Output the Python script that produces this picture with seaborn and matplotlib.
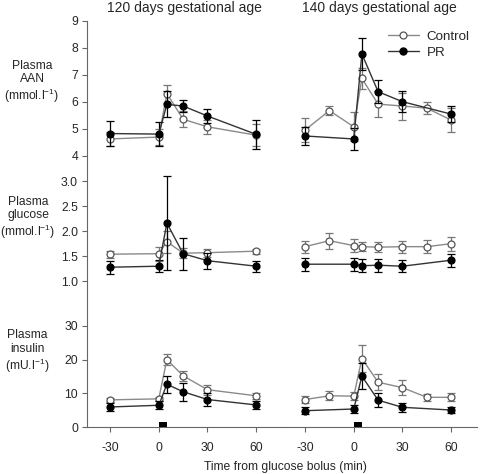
import numpy as np
import pandas as pd
import matplotlib
matplotlib.use("Agg")
import matplotlib.pyplot as plt
import seaborn as sns
from matplotlib.lines import Line2D

# ---------------- data ----------------
panel_titles = ["120 days gestational age", "140 days gestational age"]
row_labels = ["Plasma\nAAN\n(mmol.l$^{-1}$)",
              "Plasma\nglucose\n(mmol.l$^{-1}$)",
              "Plasma\ninsulin\n(mU.l$^{-1}$)"]
x_label = "Time from glucose bolus (min)"
x_ticks = [-30, 0, 30, 60]

# 120 days
t120 = [-30, 0, 5, 15, 30, 60]
aan120_ctrl = [4.62, 4.69, 6.30, 5.35, 5.07, 4.76]
aan120_ctrl_err = [0.25, 0.30, 0.33, 0.30, 0.27, 0.40]
aan120_pr = [4.82, 4.80, 5.90, 5.84, 5.47, 4.79]
aan120_pr_err = [0.45, 0.45, 0.48, 0.23, 0.25, 0.55]

glu120_ctrl = [1.54, 1.55, 1.79, 1.56, 1.57, 1.60]
glu120_ctrl_err = [0.07, 0.14, 0.22, 0.10, 0.08, 0.05]
glu120_pr = [1.28, 1.30, 2.16, 1.55, 1.41, 1.30]
glu120_pr_err = [0.13, 0.12, 0.94, 0.32, 0.16, 0.11]

ins120_ctrl = [8.1, 8.4, 20.0, 15.2, 11.1, 9.3]
ins120_ctrl_err = [0.6, 0.6, 1.6, 1.5, 1.5, 0.9]
ins120_pr = [6.0, 6.5, 12.7, 10.5, 8.2, 6.6]
ins120_pr_err = [1.2, 1.2, 2.5, 2.7, 2.0, 1.1]

# 140 days
t140_ctrl = [-30, -15, 0, 5, 15, 30, 45, 60]
t140_pr = [-30, 0, 5, 15, 30, 60]
aan140_ctrl = [4.95, 5.67, 5.07, 6.86, 5.91, 5.84, 5.76, 5.32]
aan140_ctrl_err = [0.45, 0.18, 0.54, 0.40, 0.48, 0.50, 0.23, 0.45]
aan140_pr = [4.73, 4.62, 7.77, 6.37, 6.00, 5.54]
aan140_pr_err = [0.33, 0.40, 0.58, 0.43, 0.40, 0.30]

glu140_ctrl = [1.69, 1.81, 1.71, 1.69, 1.68, 1.69, 1.69, 1.75]
glu140_ctrl_err = [0.12, 0.16, 0.13, 0.09, 0.10, 0.12, 0.13, 0.14]
glu140_pr = [1.34, 1.34, 1.31, 1.32, 1.30, 1.42]
glu140_pr_err = [0.13, 0.13, 0.13, 0.13, 0.12, 0.13]

ins140_ctrl = [8.2, 9.3, 9.2, 20.3, 13.3, 11.7, 8.85, 8.85]
ins140_ctrl_err = [1.0, 1.3, 1.2, 4.0, 2.3, 2.2, 1.0, 1.2]
ins140_pr = [4.9, 5.4, 15.1, 8.0, 5.9, 5.1]
ins140_pr_err = [1.0, 1.2, 3.9, 2.0, 1.3, 1.0]

bolus_start, bolus_end, bolus_height = 0, 5, 1.6

# ---------------- table ----------------
rows = []
def add(var, age, group, t, v, e):
    for ti, vi, ei in zip(t, v, e):
        rows.append(dict(var=var, age=age, group=group, time=ti, value=vi, err=ei))

add("aan", 120, "Control", t120, aan120_ctrl, aan120_ctrl_err)
add("aan", 120, "PR", t120, aan120_pr, aan120_pr_err)
add("glu", 120, "Control", t120, glu120_ctrl, glu120_ctrl_err)
add("glu", 120, "PR", t120, glu120_pr, glu120_pr_err)
add("ins", 120, "Control", t120, ins120_ctrl, ins120_ctrl_err)
add("ins", 120, "PR", t120, ins120_pr, ins120_pr_err)
add("aan", 140, "Control", t140_ctrl, aan140_ctrl, aan140_ctrl_err)
add("aan", 140, "PR", t140_pr, aan140_pr, aan140_pr_err)
add("glu", 140, "Control", t140_ctrl, glu140_ctrl, glu140_ctrl_err)
add("glu", 140, "PR", t140_pr, glu140_pr, glu140_pr_err)
add("ins", 140, "Control", t140_ctrl, ins140_ctrl, ins140_ctrl_err)
add("ins", 140, "PR", t140_pr, ins140_pr, ins140_pr_err)
df = pd.DataFrame(rows)

# ---------------- style ----------------
sns.set_style("ticks")
plt.rcParams["font.family"] = ["Liberation Sans", "DejaVu Sans"]
plt.rcParams["mathtext.fontset"] = "custom"
plt.rcParams["mathtext.rm"] = "Liberation Sans"
plt.rcParams["mathtext.it"] = "Liberation Sans:italic"
plt.rcParams["mathtext.default"] = "regular"
plt.rcParams["axes.unicode_minus"] = False

styles = {
    "Control": dict(line="#8a8a8a", mec="#555555", mfc="white", err="#777777", z=3),
    "PR": dict(line="#333333", mec="black", mfc="black", err="black", z=4),
}

fig = plt.figure(figsize=(4.8, 4.74), dpi=100)
W, H = 480.0, 474.0
left_px, panel_w = 87.0, 195.0
row_px = [(20.7, 170.0), (170.0, 305.0), (305.0, 427.3)]
ylims = [(3.47, 9.0), (0.526, 3.22), (0.0, 36.1)]
yticks = [[4, 5, 6, 7, 8, 9], [1.0, 1.5, 2.0, 2.5, 3.0], [0, 10, 20, 30]]
vars_ = ["aan", "glu", "ins"]
ages = [120, 140]
spine_col = "#666666"

axes = {}
for r in range(3):
    top, bot = row_px[r]
    for c in range(2):
        ax = fig.add_axes([(left_px + c * panel_w) / W, 1 - bot / H,
                           panel_w / W, (bot - top) / H])
        axes[(r, c)] = ax
        sub = df[(df["var"] == vars_[r]) & (df["age"] == ages[c])]
        for g in ["Control", "PR"]:
            s = sub[sub["group"] == g]
            st = styles[g]
            ax.errorbar(s["time"], s["value"], yerr=s["err"], fmt="none",
                        ecolor=st["err"], elinewidth=0.9, capsize=2.8,
                        capthick=0.9, zorder=st["z"] - 1)
            sns.lineplot(data=s, x="time", y="value", ax=ax, color=st["line"],
                         marker="o", markersize=5, markerfacecolor=st["mfc"],
                         markeredgecolor=st["mec"], markeredgewidth=0.9,
                         linewidth=1.0, zorder=st["z"], legend=False,
                         estimator=None, sort=False)
        ax.set_xlim(-44.2, 75.9)
        ax.set_ylim(*ylims[r])
        ax.set_xlabel("")
        ax.set_ylabel("")
        for sp in ["top", "right"]:
            ax.spines[sp].set_visible(False)
        ax.spines["left"].set_color(spine_col)
        ax.spines["bottom"].set_color(spine_col)
        if c == 0:
            ax.set_yticks(yticks[r])
            if r == 1:
                ax.set_yticklabels([f"{v:.1f}" for v in yticks[r]])
            ax.tick_params(axis="y", length=3.5, width=0.8, color=spine_col,
                           labelsize=8.7, pad=3)
        else:
            ax.spines["left"].set_visible(False)
            ax.set_yticks([])
        if r == 2:
            ax.set_xticks(x_ticks)
            ax.tick_params(axis="x", length=3.5, width=0.8, color=spine_col,
                           labelsize=8.7, pad=7)
            ax.fill_between([bolus_start, bolus_end], 0, bolus_height,
                            color="black", lw=0, zorder=5, clip_on=False)
        else:
            ax.spines["bottom"].set_visible(False)
            ax.set_xticks([])
        ax.patch.set_alpha(0)

# legend
h_ctrl = Line2D([], [], color=styles["Control"]["line"], marker="o", markersize=5,
                markerfacecolor="white", markeredgecolor=styles["Control"]["mec"],
                markeredgewidth=0.9, linewidth=1.0)
h_pr = Line2D([], [], color=styles["PR"]["line"], marker="o", markersize=5,
              markerfacecolor="black", markeredgecolor="black", linewidth=1.0)
axes[(0, 1)].legend([h_ctrl, h_pr], ["Control", "PR"], loc="upper right",
                    bbox_to_anchor=(0.99, 0.97), frameon=False, fontsize=9.6,
                    handlelength=2.3, handletextpad=0.6, labelspacing=0.25,
                    borderaxespad=0.0)

# titles and labels
for c, t in enumerate(panel_titles):
    fig.text((left_px + panel_w * (c + 0.5)) / W, 1 - 8 / H, t,
             ha="center", va="center", fontsize=10)
label_pos = [(32, 82.7), (28, 218.3), (27, 352)]
for (lx, ly), lab in zip(label_pos, row_labels):
    fig.text(lx / W, 1 - ly / H, lab, ha="center", va="center",
             fontsize=8.7, linespacing=1.15)
fig.text(285 / W, 1 - 467 / H, x_label, ha="center", va="center", fontsize=8.7)

fig.savefig("out.png", dpi=100)
